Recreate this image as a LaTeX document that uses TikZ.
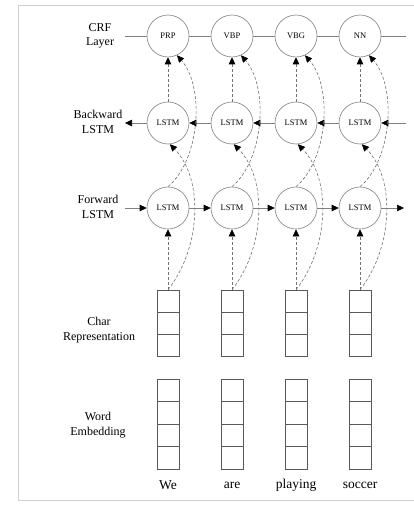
\documentclass[tikz,border=0pt]{standalone}
\usepackage{fontspec}
\setmainfont{Liberation Serif}
\usetikzlibrary{arrows.meta}
\begin{document}
\begin{tikzpicture}[x=1pt,y=-1pt,
  circ/.style={circle,draw=black!50,minimum size=42pt,inner sep=0pt,line width=0.6pt,font=\fontsize{8.5}{10}\selectfont},
  cell/.style={draw=black!65,minimum width=22pt,minimum height=22pt,inner sep=0pt,line width=0.6pt},
  wcell/.style={cell,minimum height=22.5pt},
  lbl/.style={align=center,font=\fontsize{12}{14.5}\selectfont},
  word/.style={font=\fontsize{13.5}{16}\selectfont},
  hline/.style={draw=black!50,line width=0.6pt},
  harr/.style={hline,-{Triangle[length=7pt,width=6.5pt,color=black]}},
  darr/.style={draw=black!55,line width=0.6pt,dash pattern=on 3pt off 2pt,-{Triangle[length=7pt,width=6.5pt,color=black]}}
]
\useasboundingbox (0,0) rectangle (414,505);
% frame
\draw[black!18,line width=0.8pt] (414,5) -- (18,5) -- (18,500) -- (414,500);

% labels
\node[lbl] (lcrf) at (100,36) {CRF\\Layer};
\node[lbl] (lbw) at (98,122) {Backward\\LSTM};
\node[lbl] (lfw) at (98,207) {Forward\\LSTM};
\node[lbl] (lch) at (99,330) {Char\\Representation};
\node[lbl] (lwe) at (98,425) {Word\\Embedding};

% columns
\foreach \i/\x/\tag/\w in {1/168/PRP/We,2/232/VBP/are,3/296/VBG/playing,4/360/NN/soccer}{
  \node[circ] (crf\i) at (\x,36) {\tag};
  \node[circ] (bw\i) at (\x,123) {LSTM};
  \node[circ] (fw\i) at (\x,208) {LSTM};
  \node[cell] (ca\i) at (\x,301) {};
  \node[cell] (cb\i) at (\x,323) {};
  \node[cell] (cc\i) at (\x,345) {};
  \node[wcell] (wa\i) at (\x,390.25) {};
  \node[wcell] (wb\i) at (\x,412.75) {};
  \node[wcell] (wc\i) at (\x,435.25) {};
  \node[wcell] (wd\i) at (\x,457.75) {};
  \node[word] (word\i) at (\x,485) {\w};
}

% end points
\coordinate (crfL) at (125,36);
\coordinate (crfR) at (406,36);
\coordinate (bwL) at (125,123);
\coordinate (bwR) at (406,123);
\coordinate (fwL) at (125,208);
\coordinate (fwR) at (404,208);

% CRF chain
\draw[hline] (crfL) -- (crf1.west);
\draw[hline] (crf1.east) -- (crf2.west);
\draw[hline] (crf2.east) -- (crf3.west);
\draw[hline] (crf3.east) -- (crf4.west);
\draw[hline] (crf4.east) -- (crfR);

% backward chain
\draw[harr] (bw1.west) -- (bwL);
\draw[harr] (bw2.west) -- (bw1.east);
\draw[harr] (bw3.west) -- (bw2.east);
\draw[harr] (bw4.west) -- (bw3.east);
\draw[harr] (bwR) -- (bw4.east);

% forward chain
\draw[harr] (fwL) -- (fw1.west);
\draw[harr] (fw1.east) -- (fw2.west);
\draw[harr] (fw2.east) -- (fw3.west);
\draw[harr] (fw3.east) -- (fw4.west);
\draw[harr] (fw4.east) -- (fwR);

% dashed connections
\foreach \i in {1,2,3,4}{
  \draw[darr] (ca\i.north) -- (fw\i.south);
  \draw[darr] (ca\i.north) .. controls +(32,-40) and +(35,36) .. (bw\i.-85);
  \draw[darr] (bw\i.north) -- (crf\i.south);
  \draw[darr] (fw\i.north) .. controls +(32,-27) and +(28,32) .. (crf\i.-65);
}
\end{tikzpicture}
\end{document}
